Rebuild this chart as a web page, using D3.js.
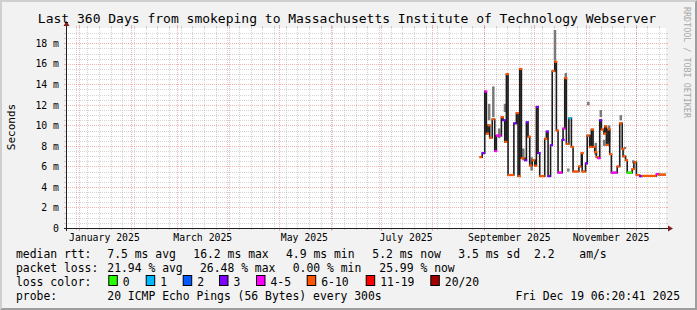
<!DOCTYPE html>
<html>
<head>
<meta charset="utf-8">
<script src="https://cdn.jsdelivr.net/npm/d3@7"></script>
<style>
  html, body { margin: 0; padding: 0; background: #f2f2f2; }
  svg { display: block; }
  text { font-family: "DejaVu Sans Mono", monospace; fill: #000; }
</style>
</head>
<body>
<svg id="chart" width="697" height="310"></svg>
<script>
// ---- data ----
const title = 'Last 360 Days from smokeping to Massachusetts Institute of Technology Webserver';
const endTime = '2025-12-19 06:20:41';
const spanDays = 360;
const yMax = 19.49;                       // ms at top of plot
const yTickValues = [0, 2, 4, 6, 8, 10, 12, 14, 16, 18];
const monthTicks = ['2025-01', '2025-03', '2025-05', '2025-07', '2025-09', '2025-11'];

// median rtt step series: start of each step, value in ms, pings lost of 20
const medianTimes = [
  '2025-08-29 12', '2025-08-31 00', '2025-09-01 12', '2025-09-02 12', '2025-09-03 12',
  '2025-09-04 12', '2025-09-06 00', '2025-09-07 12', '2025-09-08 12', '2025-09-11 12',
  '2025-09-12 12', '2025-09-13 12', '2025-09-14 12', '2025-09-15 12', '2025-09-19 00',
  '2025-09-20 12', '2025-09-21 12', '2025-09-22 12', '2025-09-23 12', '2025-09-25 12',
  '2025-09-26 12', '2025-09-27 12', '2025-09-28 12', '2025-09-30 00', '2025-10-01 12',
  '2025-10-02 12', '2025-10-03 12', '2025-10-04 12', '2025-10-07 12', '2025-10-08 12',
  '2025-10-09 12', '2025-10-11 00', '2025-10-12 00', '2025-10-13 12', '2025-10-14 12',
  '2025-10-15 12', '2025-10-18 00', '2025-10-18 12', '2025-10-19 12', '2025-10-20 12',
  '2025-10-22 00', '2025-10-23 12', '2025-10-24 12', '2025-10-28 00', '2025-10-29 12',
  '2025-10-30 00', '2025-11-01 00', '2025-11-02 00', '2025-11-03 12', '2025-11-04 12',
  '2025-11-05 12', '2025-11-06 12', '2025-11-07 12', '2025-11-08 12', '2025-11-09 12',
  '2025-11-10 12', '2025-11-12 00', '2025-11-12 12', '2025-11-13 12', '2025-11-14 12',
  '2025-11-15 12', '2025-11-16 12', '2025-11-20 00', '2025-11-21 12', '2025-11-23 00',
  '2025-11-23 12', '2025-11-25 00', '2025-11-26 00', '2025-11-29 00', '2025-11-30 00',
  '2025-12-01 12', '2025-12-03 12', '2025-12-05 00', '2025-12-13 12', '2025-12-15 00'
];
const medianMs = [
  6.9, 7.3, 13.3, 9.2, 10.0,
  8.8, 10.6, 7.5, 9.0, 10.8,
  10.5, 8.4, 15.0, 5.16, 10.2,
  11.2, 5.05, 15.5, 6.8, 6.6,
  10.3, 8.9, 6.1, 6.6, 6.06,
  11.8, 7.3, 5.05, 8.7, 9.4,
  5.05, 8.07, 15.3, 16.2, 9.5,
  5.4, 8.6, 9.7, 14.6, 8.2,
  10.7, 7.9, 5.5, 6.0, 7.3,
  5.5, 6.3, 9.0, 7.9, 9.6,
  7.9, 7.4, 6.9, 6.8, 10.5,
  9.6, 9.2, 9.9, 8.1, 9.6,
  7.2, 5.4, 6.0, 10.2, 7.7,
  6.98, 6.6, 5.4, 5.74, 6.4,
  5.16, 5.05, 5.08, 5.25, 5.2
];
const medianLoss = [
  8, 3, 5, 8, 8,
  8, 8, 5, 5, 8,
  3, 8, 8, 8, 3,
  8, 8, 8, 8, 3,
  3, 8, 8, 8, 8,
  3, 3, 8, 8, 3,
  3, 3, 8, 8, 8,
  5, 3, 5, 8, 8,
  1, 8, 8, 8, 8,
  8, 3, 8, 8, 8,
  8, 8, 8, 5, 3,
  8, 8, 8, 8, 8,
  8, 5, 8, 8, 8,
  8, 8, 0, 8, 8,
  8, 3, 8, 5, 8
];

// smoke (spread of the pings) where it shows above the median
const smokeTimes = [
  '2025-09-04 00', '2025-09-06 12', '2025-09-10 00', '2025-09-13 12', '2025-09-24 12',
  '2025-09-29 12', '2025-10-13 12', '2025-10-20 00', '2025-10-21 12', '2025-11-02 12',
  '2025-11-07 00', '2025-11-10 00', '2025-11-12 00', '2025-11-15 00', '2025-11-22 00',
  '2025-11-24 12', '2025-11-29 12'
];
const smokeLow = [10.5, 10.8, 8.75, 11.3, 6.6, 5.6, 16.3, 14.4, 5.5, 11.96, 7.1, 10.8, 8.0, 8.4, 10.5, 7.7, 6.3];
const smokeHigh = [12.1, 13.8, 9.7, 12.1, 7.75, 6.9, 19.3, 15.1, 5.8, 12.3, 8.3, 11.5, 8.6, 10.0, 11.0, 7.9, 6.6];

const lossColors = ['#26ff00', '#00b8ff', '#0059ff', '#7e00ff', '#ff00ff', '#ff5500', '#ff0000', '#a10000'];
const lossLabels = ['0', '1', '2', '3', '4-5', '6-10', '11-19', '20/20'];

const rttStats = ['median rtt:', '7.5 ms avg', '16.2 ms max', '4.9 ms min', '5.2 ms now', '3.5 ms sd', '2.2', 'am/s'];
const lossStats = ['packet loss:', '21.94 % avg', '26.48 % max', '0.00 % min', '25.99 % now'];
const probeText = ['probe:', '20 ICMP Echo Pings (56 Bytes) every 300s'];
const stampText = 'Fri Dec 19 06:20:41 2025';

// ---- layout ----
const W = 697, H = 310;
const X0 = 66, X1 = 666, Y0 = 228, Y1 = 28;
const rttX = [16, 107.3, 193.3, 286, 372.3, 458.3, 534, 579.3];
const lossX = [16, 107.3, 200, 292.7, 379.3];
const boxX = [108.3, 145.7, 182.7, 219, 256, 306.7, 365.7, 430.3];
const rowY = [258, 272, 286, 300];

const parseT = d3.utcParse('%Y-%m-%d %H');
const parseEnd = d3.utcParse('%Y-%m-%d %H:%M:%S');
const parseMonth = d3.utcParse('%Y-%m');
const tEnd = parseEnd(endTime);
const tStart = d3.utcDay.offset(tEnd, -spanDays);

const x = d3.scaleUtc().domain([tStart, tEnd]).range([X0, X1]);
const y = d3.scaleLinear().domain([0, yMax]).range([Y0, Y1]);
const lossColor = d3.scaleThreshold().domain([1, 2, 3, 4, 6, 11, 20]).range(lossColors);

const svg = d3.select('#chart');

// background and 3d frame
svg.append('rect').attr('width', W).attr('height', H).attr('fill', '#f2f2f2');
svg.append('path').attr('fill', '#cfcfcf')
  .attr('d', `M0,0H${W}L${W - 2},2H2V${H - 2}L0,${H}Z`);
svg.append('path').attr('fill', '#9e9e9e')
  .attr('d', `M${W},0V${H}H0L2,${H - 2}H${W - 2}V2Z`);
svg.append('rect').attr('x', X0).attr('y', Y1).attr('width', X1 - X0).attr('height', Y0 - Y1).attr('fill', '#fff');

const grid = svg.append('g').attr('shape-rendering', 'crispEdges');
const minorCol = 'rgba(143,143,143,0.38)';
const majorCol = 'rgba(222,79,79,0.42)';

// horizontal grid
const hMinor = d3.range(0.5, yMax, 0.5).filter(v => v % 2 !== 0);
const hMajor = yTickValues.filter(v => v > 0);
function hLines(vals, col) {
  vals.forEach(v => {
    const yy = Math.round(y(v)) + 0.5;
    grid.append('line').attr('x1', X0).attr('x2', X1).attr('y1', yy).attr('y2', yy)
      .attr('stroke', col).attr('stroke-dasharray', '1,1');
    grid.append('line').attr('x1', X0 - 2).attr('x2', X0).attr('y1', yy).attr('y2', yy).attr('stroke', col);
    grid.append('line').attr('x1', X1).attr('x2', X1 + 2).attr('y1', yy).attr('y2', yy).attr('stroke', col);
  });
}
hLines(hMinor, minorCol);
hLines(hMajor, majorCol);

// vertical grid: weeks (minor) and months (major)
const months = d3.utcMonth.range(d3.utcMonth.ceil(tStart), tEnd);
const weeks = d3.utcMonday.range(tStart, tEnd);
function vLines(vals, col, tick) {
  vals.forEach(t => {
    const xx = Math.round(x(t)) + 0.5;
    grid.append('line').attr('x1', xx).attr('x2', xx).attr('y1', Y1).attr('y2', Y0)
      .attr('stroke', col).attr('stroke-dasharray', '1,1');
    grid.append('line').attr('x1', xx).attr('x2', xx).attr('y1', Y0).attr('y2', Y0 + tick).attr('stroke', col);
    grid.append('line').attr('x1', xx).attr('x2', xx).attr('y1', Y1 - tick).attr('y2', Y1).attr('stroke', col);
  });
}
vLines(weeks, minorCol, 2);
vLines(months, majorCol, 3);

// smoke
svg.append('g').selectAll('rect')
  .data(smokeTimes.map((t, i) => ({ t: parseT(t), lo: smokeLow[i], hi: smokeHigh[i] })))
  .join('rect')
  .attr('x', d => x(d.t) - 1)
  .attr('width', 2.5)
  .attr('y', d => y(d.hi))
  .attr('height', d => y(d.lo) - y(d.hi))
  .attr('fill', '#7a7a7a');

// median line
const pts = medianTimes.map((t, i) => ({ t: parseT(t), v: medianMs[i], loss: medianLoss[i] }));
const stepPts = pts.concat([{ t: tEnd, v: pts[pts.length - 1].v }]);
svg.append('path')
  .datum(stepPts)
  .attr('fill', 'none')
  .attr('stroke', '#1c1c1c')
  .attr('stroke-width', 1.6)
  .attr('d', d3.line().x(d => x(d.t)).y(d => y(d.v)).curve(d3.curveStepAfter));

svg.append('g').selectAll('line')
  .data(pts.map((p, i) => ({ ...p, t2: stepPts[i + 1].t })))
  .join('line')
  .attr('x1', d => x(d.t) - 0.5)
  .attr('x2', d => Math.max(x(d.t2), x(d.t) + 2.5))
  .attr('y1', d => y(d.v))
  .attr('y2', d => y(d.v))
  .attr('stroke', d => lossColor(d.loss))
  .attr('stroke-width', 2.2);

// axes
const yAxis = d3.axisLeft(y).tickValues(yTickValues).tickSize(0).tickPadding(7)
  .tickFormat(v => v === 0 ? '0' : v + ' m');
svg.append('g').attr('transform', `translate(${X0},0)`).call(yAxis)
  .call(g => g.select('.domain').remove())
  .selectAll('text').attr('font-family', 'DejaVu Sans Mono').attr('font-size', 9.8).attr('fill', '#000');

const labelTimes = monthTicks.map(m => d3.utcDay.offset(parseMonth(m), 15));
const xAxis = d3.axisBottom(x).tickValues(labelTimes).tickSize(0).tickPadding(6)
  .tickFormat(d => d3.utcFormat('%B %Y')(d3.utcMonth.floor(d)));
svg.append('g').attr('transform', `translate(0,${Y0})`).call(xAxis)
  .call(g => g.select('.domain').remove())
  .selectAll('text').attr('font-family', 'DejaVu Sans Mono').attr('font-size', 9.8).attr('fill', '#000');

const axisCol = '#1f1f1f', arrowCol = '#801f1f';
svg.append('line').attr('x1', X0 - 2).attr('x2', X1 + 4).attr('y1', Y0 + 0.5).attr('y2', Y0 + 0.5)
  .attr('stroke', axisCol).attr('shape-rendering', 'crispEdges');
svg.append('line').attr('x1', X0 + 0.5).attr('x2', X0 + 0.5).attr('y1', Y0 + 3).attr('y2', Y1 - 4)
  .attr('stroke', axisCol).attr('shape-rendering', 'crispEdges');
svg.append('path').attr('fill', arrowCol)
  .attr('d', `M${X1 + 7},${Y0 + 0.5}L${X1 + 2},${Y0 - 2.5}L${X1 + 2},${Y0 + 3.5}Z`);
svg.append('path').attr('fill', arrowCol)
  .attr('d', `M${X0 + 0.5},${Y1 - 7}L${X0 - 2.5},${Y1 - 2}L${X0 + 3.5},${Y1 - 2}Z`);

// title, vertical label, watermark
svg.append('text').attr('x', 347).attr('y', 23).attr('text-anchor', 'middle')
  .attr('font-size', 13).text(title);
svg.append('text').attr('transform', 'translate(14.5,127) rotate(-90)').attr('text-anchor', 'middle')
  .attr('font-size', 11).text('Seconds');
svg.append('text').attr('transform', 'translate(683.5,7) rotate(90)')
  .attr('font-size', 8.4).style('fill', '#a8a8a8').text('RRDTOOL / TOBI OETIKER');

// legend
const legend = svg.append('g').attr('font-size', 11.4).attr('xml:space', 'preserve');
rttStats.forEach((s, i) => legend.append('text').attr('x', rttX[i]).attr('y', rowY[0]).text(s));
lossStats.forEach((s, i) => legend.append('text').attr('x', lossX[i]).attr('y', rowY[1]).text(s));
legend.append('text').attr('x', 16).attr('y', rowY[2]).text('loss color:');
lossLabels.forEach((s, i) => {
  legend.append('rect').attr('x', boxX[i] + 0.5).attr('y', rowY[2] - 10.5).attr('width', 8.5).attr('height', 10)
    .attr('fill', lossColors[i]).attr('stroke', '#000').attr('stroke-width', 1);
  legend.append('text').attr('x', boxX[i] + 14.5).attr('y', rowY[2]).text(s);
});
legend.append('text').attr('x', 16).attr('y', rowY[3]).text(probeText[0]);
legend.append('text').attr('x', 107.3).attr('y', rowY[3]).text(probeText[1]);
legend.append('text').attr('x', 680).attr('y', rowY[3]).attr('text-anchor', 'end').text(stampText);
</script>
</body>
</html>
